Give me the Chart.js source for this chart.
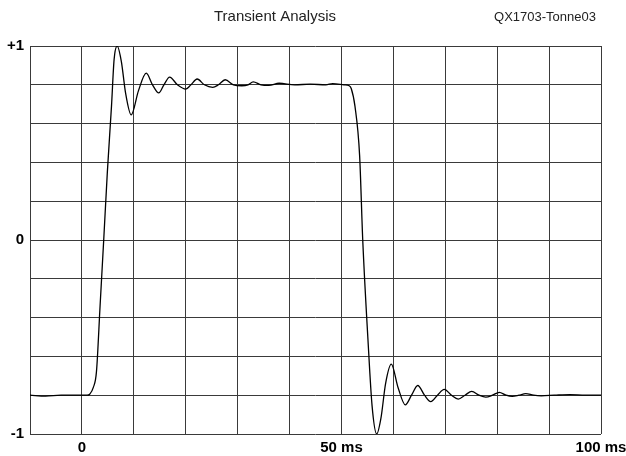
<!DOCTYPE html>
<html>
<head>
<meta charset="utf-8">
<script src="https://cdn.jsdelivr.net/npm/chart.js@4/dist/chart.umd.min.js"></script>
<style>
html,body{margin:0;padding:0;background:#fff;}
#wrap{width:626px;height:456px;position:relative;}
</style>
</head>
<body>
<div id="wrap"><canvas id="c" width="626" height="456"></canvas></div>
<script>
const titleText = "Transient Analysis";
const tagText = "QX1703-Tonne03";
const xTickLabels = { 0: "0", 50: "50 ms", 100: "100 ms" };
const yTickLabels = { 1: "+1", 0: "0", "-1": "-1" };

const timeMs = [
  -10, -7, -4, -1, 1, 1.5, 2.2, 2.8, 3.5, 4.2, 4.9, 5.7, 6.2, 6.8, 7.6, 8.4, 9.5,
  10.9, 12.4, 13.6, 14.8, 15.8, 16.9, 18.4, 20.0, 21.0, 22.2, 23.6, 25.2, 26.3, 27.6,
  29.2, 30.8, 32.0, 33.0, 34.5, 36, 38, 41, 44, 47, 48.3, 50.5, 51.5, 51.9, 52.6,
  53.5, 54.1, 55.1, 55.9, 56.8, 57.6, 58.5, 59.6, 60.9, 62.3, 63.5, 64.7, 66.0,
  67.2, 68.5, 69.8, 71.2, 72.5, 73.8, 75.1, 76.5, 77.8, 79.1, 80.4, 81.7, 82.9,
  84.2, 85.5, 87, 88.5, 91, 94, 97, 100
];
const amplitude = [
  -0.80, -0.805, -0.80, -0.80, -0.80, -0.795, -0.76, -0.68, -0.34, 0.0, 0.35, 0.69, 0.93, 1.0, 0.92, 0.76, 0.645,
  0.77, 0.86, 0.80, 0.758, 0.80, 0.84, 0.80, 0.778, 0.80, 0.83, 0.80, 0.787, 0.80, 0.826,
  0.80, 0.795, 0.80, 0.815, 0.80, 0.797, 0.808, 0.80, 0.803, 0.80, 0.806, 0.80, 0.795, 0.78, 0.69,
  0.435, 0.0, -0.51, -0.855, -1.0, -0.92, -0.74, -0.64, -0.76, -0.85, -0.80, -0.75, -0.80,
  -0.833, -0.80, -0.77, -0.80, -0.82, -0.80, -0.78, -0.80, -0.81, -0.80, -0.785, -0.80, -0.806,
  -0.80, -0.792, -0.80, -0.803, -0.80, -0.797, -0.80, -0.80
];

const points = timeMs.map((t, i) => ({ x: t, y: amplitude[i] }));

const headerPlugin = {
  id: 'header',
  afterDraw(chart) {
    const ctx = chart.ctx;
    ctx.save();
    ctx.fillStyle = '#222';
    ctx.textBaseline = 'middle';
    ctx.textAlign = 'center';
    ctx.font = '15px "Liberation Sans", Arial, sans-serif';
    ctx.fillText(titleText, 275, 17);
    ctx.font = '13px "Liberation Sans", Arial, sans-serif';
    ctx.fillText(tagText, 545, 17);
    ctx.restore();
  }
};

function near(v, target) { return Math.abs(v - target) < 1e-6; }

new Chart(document.getElementById('c'), {
  type: 'line',
  data: {
    datasets: [{
      data: points,
      borderColor: '#000',
      borderWidth: 1.3,
      pointRadius: 0,
      fill: false,
      cubicInterpolationMode: 'monotone'
    }]
  },
  options: {
    responsive: false,
    animation: false,
    events: [],
    layout: { padding: { top: 46, right: 25, left: 0, bottom: 0 } },
    plugins: { legend: { display: false }, tooltip: { enabled: false }, title: { display: false } },
    scales: {
      x: {
        type: 'linear',
        min: -10, max: 100,
        afterFit(s) { s.height = 22; s.paddingLeft = 0; s.paddingRight = 0; },
        border: { display: false },
        grid: { color: '#3a3a3a', lineWidth: 1, drawTicks: false },
        ticks: {
          stepSize: 10,
          padding: 5,
          autoSkip: false,
          maxRotation: 0,
          color: '#000',
          font: { family: '"Liberation Sans", Arial, sans-serif', size: 15, weight: 'bold' },
          callback(v) {
            for (const k in xTickLabels) { if (near(v, Number(k))) return xTickLabels[k]; }
            return '';
          }
        }
      },
      y: {
        type: 'linear',
        min: -1, max: 1,
        afterFit(s) { s.width = 30; s.paddingTop = 0; s.paddingBottom = 0; },
        border: { display: false },
        grid: { color: '#3a3a3a', lineWidth: 1, drawTicks: false },
        ticks: {
          stepSize: 0.2,
          padding: 6,
          autoSkip: false,
          color: '#000',
          font: { family: '"Liberation Sans", Arial, sans-serif', size: 15, weight: 'bold' },
          callback(v) {
            for (const k in yTickLabels) { if (near(v, Number(k))) return yTickLabels[k]; }
            return '';
          }
        }
      }
    }
  },
  plugins: [headerPlugin]
});
</script>
</body>
</html>
